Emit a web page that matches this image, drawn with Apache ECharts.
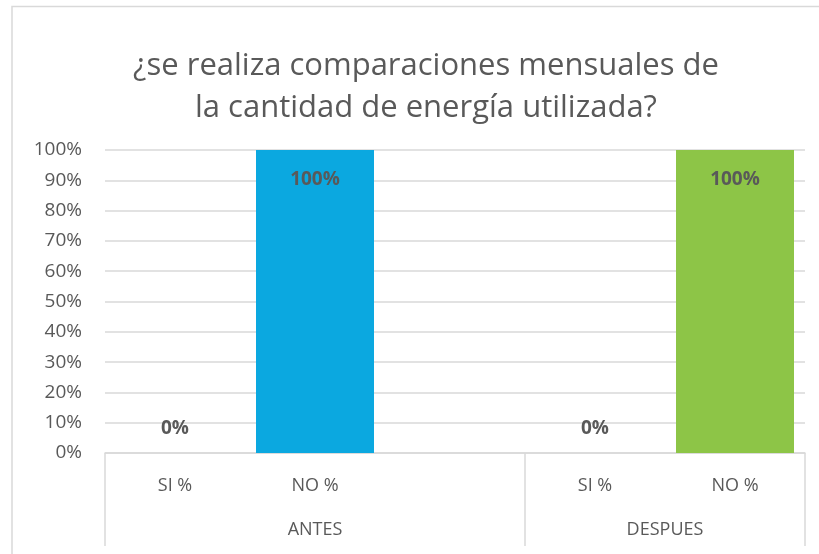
<!DOCTYPE html>
<html lang="es">
  <head>
    <meta charset="UTF-8" />
    <title>echarts</title>
    <style>
      html, body { margin: 0; padding: 0; background: #fff; }
      #main { width: 819px; height: 554px; }
    </style>
  </head>
  <body>
    <div id="main"></div>
    <script src="https://cdn.jsdelivr.net/npm/echarts@6/dist/echarts.min.js"></script>
    <script>
      const myChart = echarts.init(document.getElementById('main'))

      var titleText = '¿se realiza comparaciones mensuales de\nla cantidad de energía utilizada?'
      // categorias (hay un hueco entre ANTES y DESPUES)
      var categories = ['SI %', 'NO %', '', 'SI %', 'NO %']
      var values = [0, 1, null, 0, 1]
      var barColors = ['#0ba8e0', '#0ba8e0', '#0ba8e0', '#8dc547', '#8dc547']
      // segundo nivel del eje x
      var groupLabels = ['', '', '', 'ANTES', '', '', '', '', 'DESPUES', '', '']
      var groupBreaks = [0, 6, 10]

      var font = 'Open Sans'
      var grey = '#595959'

      var barData = values.map(function (v, i) {
        return {
          value: v,
          itemStyle: { color: barColors[i] },
          label: v > 0
            ? { position: 'insideTop', distance: 20 }
            : { position: 'top', distance: 15 }
        }
      })

      option = {
        backgroundColor: '#fff',
        title: {
          text: titleText,
          left: 421,
          textAlign: 'center',
          top: 40,
          textStyle: {
            fontFamily: font,
            fontWeight: 'normal',
            fontSize: 31,
            lineHeight: 42,
            color: grey
          }
        },
        graphic: [
          {
            type: 'polyline',
            shape: { points: [[12, 560], [12, 6.5], [830, 6.5]] },
            style: { stroke: '#d9d9d9', lineWidth: 1.5, fill: null }
          }
        ],
        grid: {
          left: 105,
          right: 14,
          top: 150,
          bottom: 101
        },
        xAxis: [
          {
            type: 'category',
            data: categories,
            position: 'bottom',
            axisLine: { show: true, lineStyle: { color: '#d9d9d9', width: 1.5 } },
            axisTick: { show: false },
            axisLabel: {
              margin: 24,
              fontFamily: font,
              fontSize: 18,
              color: grey
            }
          },
          {
            type: 'category',
            data: groupLabels,
            position: 'bottom',
            boundaryGap: false,
            axisLine: { show: false },
            axisTick: {
              show: true,
              length: 93,
              interval: function (index) {
                return groupBreaks.indexOf(index) >= 0
              },
              lineStyle: { color: '#d9d9d9', width: 1.5 }
            },
            axisLabel: {
              interval: 0,
              margin: 68,
              fontFamily: font,
              fontSize: 18,
              color: grey
            }
          }
        ],
        yAxis: {
          type: 'value',
          min: 0,
          max: 1,
          interval: 0.1,
          axisLine: { show: false },
          axisTick: { show: false },
          splitLine: { lineStyle: { color: '#d9d9d9', width: 1.5 } },
          axisLabel: {
            margin: 23,
            fontFamily: font,
            fontSize: 19,
            color: grey,
            formatter: function (v) {
              return Math.round(v * 100) + '%'
            }
          }
        },
        series: [
          {
            type: 'bar',
            data: barData,
            barWidth: 118,
            label: {
              show: true,
              fontFamily: font,
              fontSize: 19,
              fontWeight: 'bold',
              color: grey,
              formatter: function (p) {
                return p.value == null ? '' : Math.round(p.value * 100) + '%'
              }
            }
          }
        ]
      }

      myChart.setOption(option)
    </script>
  </body>
</html>
